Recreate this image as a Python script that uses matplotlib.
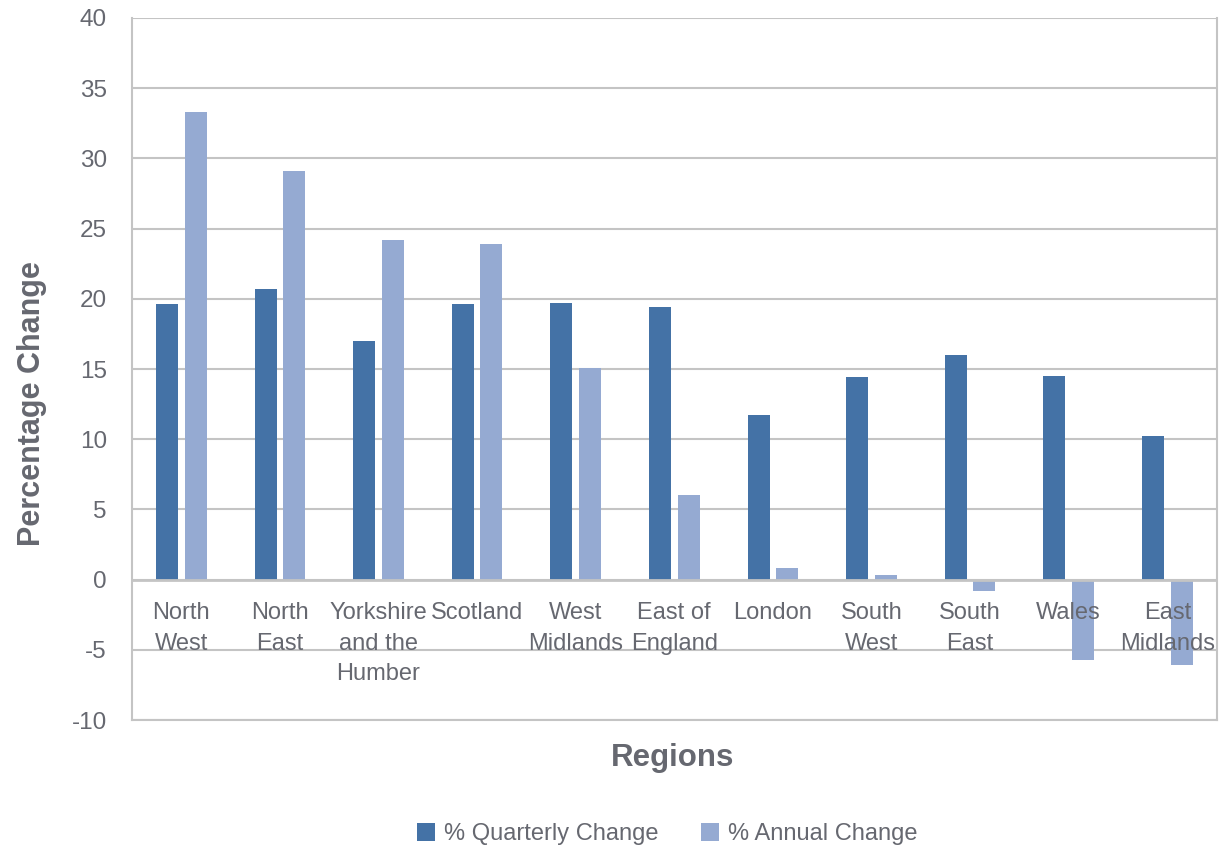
import matplotlib.pyplot as plt
import numpy as np

plt.rcParams["font.family"] = ["Liberation Sans", "DejaVu Sans"]

regions = [
    "North\nWest", "North\nEast", "Yorkshire\nand the\nHumber", "Scotland",
    "West\nMidlands", "East of\nEngland", "London", "South\nWest",
    "South\nEast", "Wales", "East\nMidlands",
]
quarterly = [19.6, 20.7, 17.0, 19.6, 19.7, 19.4, 11.7, 14.4, 16.0, 14.5, 10.2]
annual = [33.3, 29.1, 24.2, 23.9, 15.1, 6.0, 0.85, 0.3, -0.8, -5.7, -6.1]
yticks = list(range(-10, 45, 5))

TEXT = "#666870"
GRID = "#c4c4c4"
C_Q = "#4472a6"
C_A = "#95aad2"


def save_figure(fig, filename):

    fig.savefig(filename, dpi=100)
    plt.close(fig)
    print(f"[Saved] {filename}")


def plot_regions():

    fig = plt.figure(figsize=(12.29, 8.52))
    ax = fig.add_axes([0.1074, 0.1549, 0.8825, 0.8240])

    x = np.arange(len(regions))
    w = 0.223
    off = 0.145

    ax.bar(x - off, quarterly, w, color=C_Q, label="% Quarterly Change", zorder=3)
    ax.bar(x + off, annual, w, color=C_A, label="% Annual Change", zorder=3)

    ax.set_xlim(-0.5, len(regions) - 0.5)
    ax.set_ylim(-10, 40)
    ax.set_yticks(yticks)
    ax.set_yticklabels([str(t) for t in yticks])
    ax.set_xticks([])

    ax.grid(axis="y", color=GRID, linewidth=1.5, zorder=0)
    ax.axhline(0, color=GRID, linewidth=2, zorder=4)
    for side in ["top", "bottom", "left", "right"]:
        ax.spines[side].set_color(GRID)
        ax.spines[side].set_linewidth(1.5)
    ax.spines["top"].set_visible(False)

    ax.tick_params(axis="y", length=0, pad=18, labelsize=17.5, labelcolor=TEXT)

    for xi, name in zip(x, regions):
        ax.text(
            xi, -1.6, name,
            ha="center", va="top",
            fontsize=17, color=TEXT,
            linespacing=1.5,
            zorder=5,
        )

    fig.text(0.547, 0.110, "Regions", ha="center", va="center",
             fontsize=22.5, fontweight="bold", color=TEXT)
    fig.text(0.026, 0.526, "Percentage Change", ha="center", va="center",
             rotation=90, fontsize=22, fontweight="bold", color=TEXT)

    fig.legend(
        loc="center", bbox_to_anchor=(0.543, 0.021),
        ncol=2, frameon=False, fontsize=17,
        labelcolor=TEXT, handlelength=0.75, handleheight=0.75,
        handletextpad=0.4, columnspacing=1.8,
    )

    save_figure(fig, "out.png")


plot_regions()
